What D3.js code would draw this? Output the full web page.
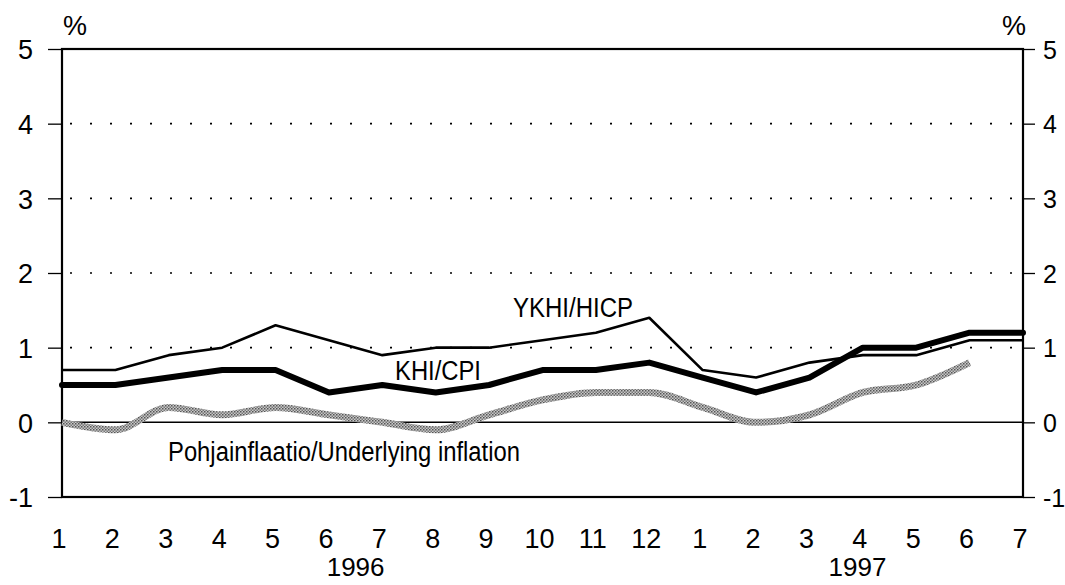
<!DOCTYPE html>
<html>
<head>
<meta charset="utf-8">
<script src="https://cdn.jsdelivr.net/npm/d3@7"></script>
<style>
body{margin:0;background:#fff}
text{font-family:"Liberation Sans",Arial,sans-serif;fill:#000}
</style>
</head>
<body>
<svg id="mainsvg" width="1065" height="585"></svg>
<script>
// kuukaudet 1/1996 - 7/1997
const months = ['1','2','3','4','5','6','7','8','9','10','11','12','1','2','3','4','5','6','7']
const years = [{label:'1996', at:5.5}, {label:'1997', at:14.9}]
const yTicks = [-1,0,1,2,3,4,5]
const hicp = [0.7,0.7,0.9,1.0,1.3,1.1,0.9,1.0,1.0,1.1,1.2,1.4,0.7,0.6,0.8,0.9,0.9,1.1,1.1]
const cpi = [0.5,0.5,0.6,0.7,0.7,0.4,0.5,0.4,0.5,0.7,0.7,0.8,0.6,0.4,0.6,1.0,1.0,1.2,1.2]
const underlying = [0.0,-0.1,0.2,0.1,0.2,0.1,0.0,-0.1,0.1,0.3,0.4,0.4,0.2,0.0,0.1,0.4,0.5,0.8]

const plotL = 62, plotR = 1023, plotT = 49, plotB = 497
const fs = '27px'

const svg = d3.select('#mainsvg')
const x = d3.scaleLinear().domain([0, months.length - 1]).range([plotL, plotR])
const y = d3.scaleLinear().domain([-1, 5]).range([plotB, plotT])

// pattern for the grey hatched line
const defs = svg.append('defs')
const pat = defs.append('pattern')
    .attr('id','hatch')
    .attr('width',3).attr('height',3)
    .attr('patternUnits','userSpaceOnUse')
pat.append('rect').attr('width',3).attr('height',3).attr('fill','#c8c8c8')
pat.append('rect').attr('width',1.5).attr('height',1.5).attr('fill','#555')
pat.append('rect').attr('x',1.5).attr('y',1.5).attr('width',1.5).attr('height',1.5).attr('fill','#777')

// dotted grid
svg.append('g').selectAll('line')
    .data(yTicks.filter(d => d > 0 && d < 5))
    .join('line')
    .attr('x1', plotL + 8).attr('x2', plotR)
    .attr('y1', d => y(d)).attr('y2', d => y(d))
    .attr('stroke','#000')
    .attr('stroke-width',1.6)
    .attr('stroke-dasharray','2,18')

// zero line
svg.append('line')
    .attr('x1',plotL).attr('x2',plotR)
    .attr('y1',y(0)).attr('y2',y(0))
    .attr('stroke','#000').attr('stroke-width',1.5)

// axes
const fmt = d => d < 0 ? '-' + Math.abs(d) : String(d)
const axisL = d3.axisLeft(y).tickValues(yTicks).tickFormat(fmt).tickSize(14).tickPadding(15)
const axisR = d3.axisRight(y).tickValues(yTicks).tickFormat(fmt).tickSize(12).tickPadding(8)
const gl = svg.append('g').attr('transform',`translate(${plotL},0)`).call(axisL)
const gr = svg.append('g').attr('transform',`translate(${plotR},0)`).call(axisR)
;[gl, gr].forEach(g => {
    g.select('.domain').remove()
    g.selectAll('.tick line').attr('stroke','#000').attr('stroke-width',1.3)
    g.selectAll('.tick text').style('font-size',fs).attr('dy','0.36em')
})
gr.selectAll('.tick text').style('font-size','25px')

// frame
svg.append('rect')
    .attr('x',plotL).attr('y',plotT)
    .attr('width',plotR - plotL).attr('height',plotB - plotT)
    .attr('fill','none').attr('stroke','#000').attr('stroke-width',2.2)

// x labels
svg.append('g').selectAll('text')
    .data(months)
    .join('text')
    .attr('x',(d,i) => x(i) - 3)
    .attr('y',548)
    .attr('text-anchor','middle')
    .style('font-size',fs)
    .text(d => d)

svg.append('g').selectAll('text')
    .data(years)
    .join('text')
    .attr('x',d => x(d.at))
    .attr('y',576)
    .attr('text-anchor','middle')
    .style('font-size','26px')
    .text(d => d.label)

svg.append('text').attr('x',75).attr('y',35).attr('text-anchor','middle').style('font-size',fs).text('%')
svg.append('text').attr('x',1014).attr('y',35).attr('text-anchor','middle').style('font-size',fs).text('%')

// lines
const line = d3.line().x((d,i) => x(i)).y(d => y(d))

svg.append('path').datum(underlying)
    .attr('d', line.curve(d3.curveMonotoneX))
    .attr('fill','none')
    .attr('stroke','url(#hatch)')
    .attr('stroke-width',7)
    .attr('stroke-linejoin','round')

line.curve(d3.curveLinear)
svg.append('path').datum(hicp)
    .attr('d', line)
    .attr('fill','none')
    .attr('stroke','#000')
    .attr('stroke-width',2.6)
    .attr('stroke-linejoin','round')

svg.append('path').datum(cpi)
    .attr('d', line)
    .attr('fill','none')
    .attr('stroke','#000')
    .attr('stroke-width',6)
    .attr('stroke-linejoin','round')
    .attr('stroke-linecap','round')

// labels (narrow font in the original, squeezed with textLength)
function label(txt, x0, y0, len) {
    svg.append('text').attr('x',x0).attr('y',y0)
        .style('font-size','27px')
        .attr('textLength',len).attr('lengthAdjust','spacingAndGlyphs')
        .text(txt)
}
label('YKHI/HICP', 513, 317, 120)
label('KHI/CPI', 395, 380, 86)
label('Pohjainflaatio/Underlying inflation', 168, 461, 352)
</script>
</body>
</html>
